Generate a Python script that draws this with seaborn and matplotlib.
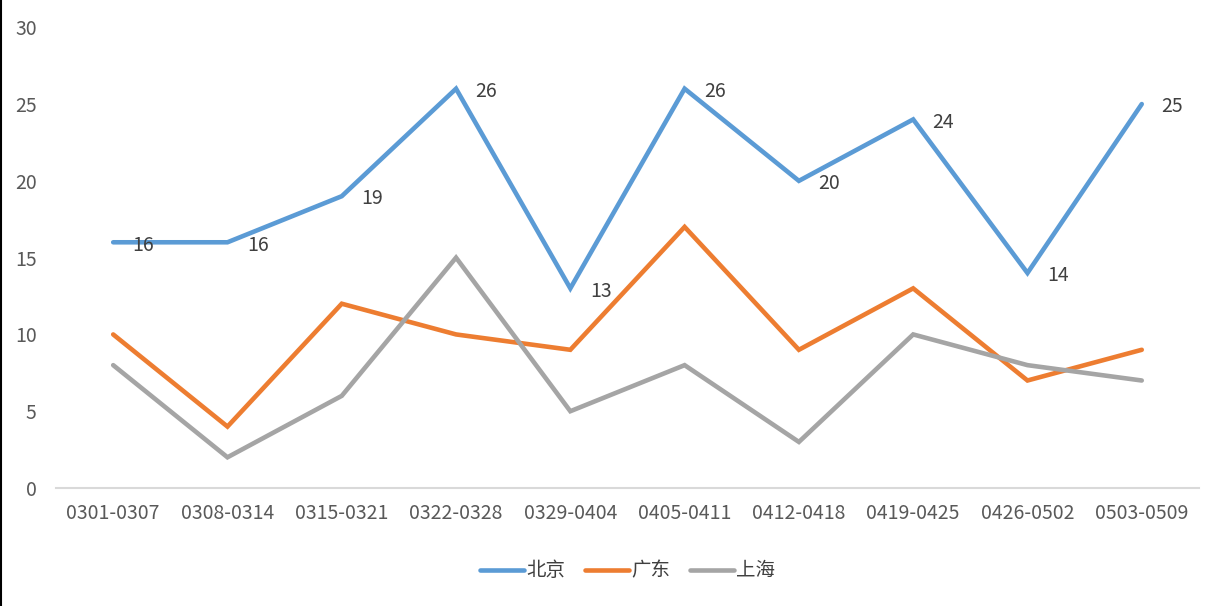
import matplotlib
matplotlib.use("Agg")
import matplotlib.pyplot as plt
import seaborn as sns
import pandas as pd
from matplotlib.lines import Line2D

weeks = ["0301-0307", "0308-0314", "0315-0321", "0322-0328", "0329-0404",
         "0405-0411", "0412-0418", "0419-0425", "0426-0502", "0503-0509"]
beijing = [16, 16, 19, 26, 13, 26, 20, 24, 14, 25]
guangdong = [10, 4, 12, 10, 9, 17, 9, 13, 7, 9]
shanghai = [8, 2, 6, 15, 5, 8, 3, 10, 8, 7]
series = ["北京", "广东", "上海"]
colors = ["#5B9BD5", "#ED7D31", "#A5A5A5"]

rows = []
for name, vals in zip(series, [beijing, guangdong, shanghai]):
    for w, v in zip(weeks, vals):
        rows.append({"week": w, "value": v, "city": name})
df = pd.DataFrame(rows)

sns.set_style("white")
plt.rcParams["font.family"] = ["Noto Sans CJK SC", "DejaVu Sans"]

fig = plt.figure(figsize=(12.21, 6.06), dpi=100)
ax = fig.add_axes([0.0459, 0.1947, 0.936, 0.7603])

sns.lineplot(data=df, x="week", y="value", hue="city", palette=colors,
             hue_order=series, sort=False, linewidth=3.3, ax=ax,
             solid_capstyle="round", solid_joinstyle="miter")

# data labels for 北京
for i, v in enumerate(beijing):
    ax.annotate(str(v), (i, v), xytext=(14, -2), textcoords="offset points",
                ha="left", va="center", fontsize=14, color="#404040")

ax.set_xlim(-0.5, len(weeks) - 0.5)
ax.set_ylim(0, 30)
ax.set_yticks(range(0, 31, 5))
ax.set_xlabel("")
ax.set_ylabel("")
for s in ["top", "right", "left"]:
    ax.spines[s].set_visible(False)
ax.spines["bottom"].set_color("#D9D9D9")
ax.spines["bottom"].set_linewidth(1.5)
ax.tick_params(axis="both", length=0, labelsize=14, colors="#595959")
ax.tick_params(axis="x", pad=11)
ax.tick_params(axis="y", pad=14)

leg = ax.legend(loc="center", bbox_to_anchor=(0.5, -0.18), ncol=3, frameon=False,
                fontsize=14, handlelength=2.3, handletextpad=0.1, columnspacing=1.0)
for h in leg.get_lines():
    h.set_linewidth(3.3)
    h.set_solid_capstyle("round")
for t in leg.get_texts():
    t.set_color("#404040")

# left border line of the image
fig.add_artist(Line2D([0.001, 0.001], [0, 1], transform=fig.transFigure,
                      color="black", linewidth=1.5))

fig.savefig("out.png", dpi=100)
